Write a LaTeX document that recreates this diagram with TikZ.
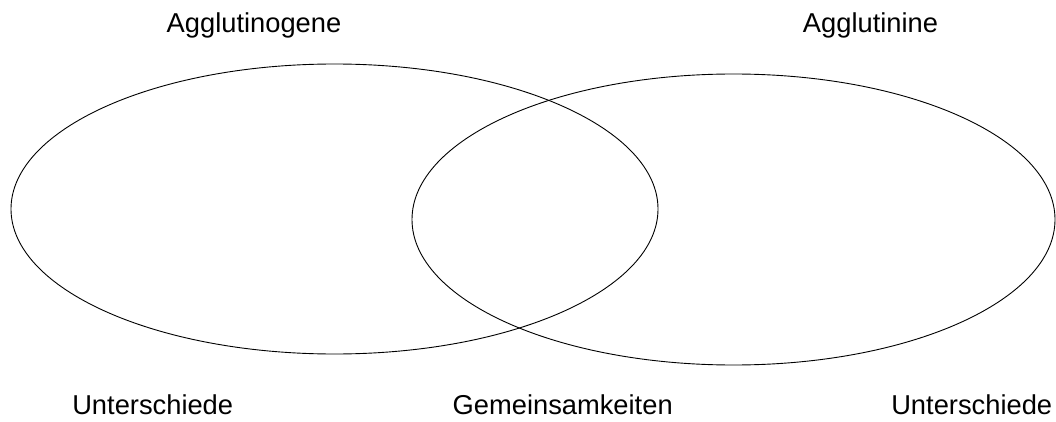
\documentclass[tikz,border=0pt]{standalone}
\usepackage{fontspec}
\setmainfont{Liberation Sans}
\usetikzlibrary{shapes.geometric}
\begin{document}
\begin{tikzpicture}[x=1pt,y=1pt,
  venn/.style={draw=black, line width=0.9pt, ellipse, inner sep=0pt},
  lbl/.style={anchor=base, inner sep=0pt, font=\fontsize{27.3}{30}\selectfont}]
\useasboundingbox (0,0) rectangle (1056,421);
\node[venn, minimum width=647, minimum height=290] (left) at (334.5,212) {};
\node[venn, minimum width=643, minimum height=291] (right) at (733.5,201.5) {};
\node[lbl] (agn) at (254,388) {Agglutinogene};
\node[lbl] (agi) at (870.5,388) {Agglutinine};
\node[lbl] (ul) at (152.7,7) {Unterschiede};
\node[lbl] (gm) at (562.7,7) {Gemeinsamkeiten};
\node[lbl] (ur) at (971.7,7) {Unterschiede};
\end{tikzpicture}
\end{document}
